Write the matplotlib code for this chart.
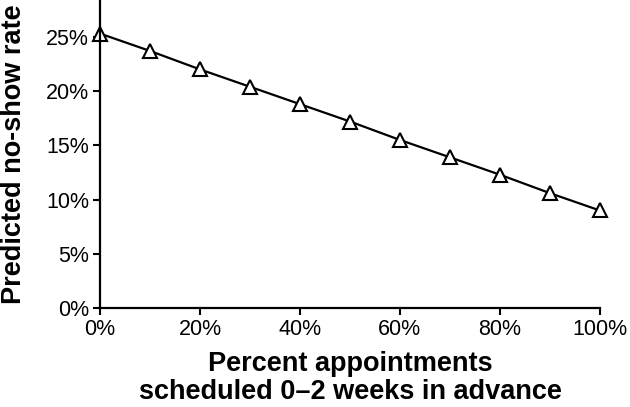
import matplotlib
matplotlib.use('Agg')
import matplotlib.pyplot as plt
from matplotlib.ticker import FuncFormatter

# 数据
pct_scheduled = [0, 10, 20, 30, 40, 50, 60, 70, 80, 90, 100]
no_show_rate = [25.3, 23.7, 22.0, 20.4, 18.8, 17.2, 15.5, 13.9, 12.3, 10.6, 9.0]
x_ticks = [0, 20, 40, 60, 80, 100]
y_ticks = [0, 5, 10, 15, 20, 25]

plt.rcParams['font.family'] = ['Liberation Sans', 'DejaVu Sans']

fig = plt.figure(figsize=(6.3, 4.07), dpi=100)
ax = fig.add_axes([0.159, 0.243, 0.793, 0.757])

ax.plot(pct_scheduled, no_show_rate, color='black', linewidth=1.6,
        marker='^', markersize=10, markerfacecolor='white',
        markeredgecolor='black', markeredgewidth=1.5, clip_on=False)

ax.set_xlim(0, 100)
ax.set_ylim(0, 28.4)
ax.set_xticks(x_ticks)
ax.set_yticks(y_ticks)
ax.xaxis.set_major_formatter(FuncFormatter(lambda v, p: f'{v:.0f}%'))
ax.yaxis.set_major_formatter(FuncFormatter(lambda v, p: f'{v:.0f}%'))

for s in ['top', 'right']:
    ax.spines[s].set_visible(False)
for s in ['left', 'bottom']:
    ax.spines[s].set_linewidth(1.6)

ax.tick_params(axis='both', direction='out', length=5, width=1.5,
               labelsize=15.5, colors='black', pad=3)

ax.set_xlabel('Percent appointments\nscheduled 0\u20132 weeks in advance',
              fontsize=19.5, fontweight='bold', linespacing=1.1)
ax.set_ylabel('Predicted no-show rate', fontsize=19.5, fontweight='bold')
ax.xaxis.set_label_coords(0.5, -0.14)
ax.yaxis.set_label_coords(-0.146, 0.5)

fig.savefig('out.png', dpi=100)
